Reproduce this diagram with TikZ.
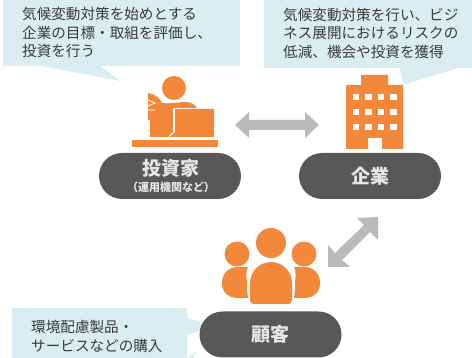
\documentclass[tikz,border=0pt]{standalone}
\usepackage{fontspec}
\setmainfont{Noto Sans CJK JP}
\definecolor{callout}{HTML}{DAEDF3}
\definecolor{pill}{HTML}{595757}
\definecolor{icon}{HTML}{F3873A}
\definecolor{arrowgrey}{HTML}{B9BBB9}
\definecolor{ink}{HTML}{3A3A3A}
\definecolor{pilltext}{HTML}{E6E6E6}
\tikzset{
  calloutfill/.style={fill=callout,draw=none},
  calloutlabel/.style={anchor=west,text=ink,font=\fontsize{14.6}{17}\selectfont,inner sep=0pt},
  pillbox/.style={fill=pill,draw=none,rounded corners=23,minimum width=142,minimum height=46,inner sep=0pt,text=pilltext},
  pillbig/.style={font=\bfseries\fontsize{19}{22}\selectfont},
  iconfill/.style={fill=icon,draw=none},
  winfill/.style={fill=white,draw=none},
  greyarrow/.style={fill=arrowgrey,draw=none}
}
\begin{document}
\begin{tikzpicture}[x=1pt,y=-1pt]
\useasboundingbox (0,0) rectangle (472,358);
% callouts
\fill[calloutfill] (3,0) -- (240,0) -- (240,66) -- (101,66) -- (120,81) -- (42,66) -- (3,66) -- cycle;
\fill[calloutfill] (264,0) -- (472,0) -- (472,68) -- (458,68) -- (403,85) -- (400,68) -- (264,68) -- cycle;
\fill[calloutfill] (12,308) -- (187,308) -- (187,318) -- (215,326) -- (187,335) -- (187,358) -- (12,358) -- cycle;
\fill[calloutfill] (188,358) -- (197,350) -- (193,358) -- cycle;
\node[calloutlabel] (t1a) at (22,14) {気候変動対策を始めとする};
\node[calloutlabel] (t1b) at (22,33) {企業の目標・取組を評価し、};
\node[calloutlabel] (t1c) at (22,51) {投資を行う};
\node[calloutlabel] (t2a) at (283,15) {気候変動対策を行い、ビジ};
\node[calloutlabel] (t2b) at (283,33) {ネス展開におけるリスクの};
\node[calloutlabel] (t2c) at (283,52) {低減、機会や投資を獲得};
\node[calloutlabel] (t3a) at (31,327) {環境配慮製品・};
\node[calloutlabel] (t3b) at (31,346) {サービスなどの購入};
% pills
\node[pillbox] (investor) at (170,176) {};
\node[text=pilltext,inner sep=0pt,pillbig] (investorA) at (171,168) {投資家};
\node[text=pilltext,inner sep=0pt,font=\bfseries\fontsize{11}{13}\selectfont] (investorB) at (171,187) {（運用機関など）};
\node[pillbox,pillbig] (company) at (370,176) {企業};
\node[pillbox,pillbig] (customer) at (270.5,334.5) {顧客};
% investor icon
\fill[iconfill] (174,88) circle (12);
\fill[iconfill] (148,93) .. controls (155,94) and (160,98) .. (162,103) .. controls (170,104) and (180,102) .. (186,102) .. controls (192,102) and (195,105) .. (197,108) -- (173,108) -- (173,132) -- (168,137) -- (150,137) -- (150,120) -- (148,120) -- cycle;
\fill[iconfill] (175,109) -- (214,109) -- (214,137) -- (170,137) -- (175,132) -- cycle;
\fill[iconfill] (132,140) rectangle (218,147);
\draw[white,line width=.9] (148,100) -- (155,103) -- (148,106) (148,110) -- (155,110);
% building
\fill[iconfill] (361,75) -- (388,75) -- (388,85) -- (403,85) -- (403,149) -- (382,149) -- (382,138) -- (368,138) -- (368,149) -- (346,149) -- (346,85) -- (361,85) -- cycle;
\foreach \wy in {97,112,127}{
  \foreach \wx in {356,368.5,381,393.5}{
    \fill[winfill] (\wx-3.2,\wy-3.2) rectangle (\wx+3.2,\wy+3.2);
  }
}
% people
\fill[iconfill] (271,243) circle (15);
\fill[iconfill] (237,254) circle (12.5);
\fill[iconfill] (304,254) circle (12.5);
\fill[iconfill] (250,283) arc (180:360:21) -- (292,300) .. controls (292,303) and (290,304) .. (288,304) -- (254,304) .. controls (252,304) and (250,303) .. (250,300) -- cycle;
\fill[iconfill] (248,267) .. controls (245,272) and (247,280) .. (247,283) -- (247,290) -- (248,298) -- (238,298) .. controls (228,298) and (222,292) .. (222,283) .. controls (222,274) and (228,267) .. (238,267) -- cycle;
\fill[iconfill] (294,267) .. controls (297,272) and (295,280) .. (295,283) -- (295,290) -- (294,298) -- (304,298) .. controls (314,298) and (320,292) .. (320,283) .. controls (320,274) and (314,267) .. (304,267) -- cycle;
% arrows
\coordinate (h1) at (235,125);
\coordinate (h2) at (319,125);
\fill[greyarrow] (h1) -- (249,112) -- (249,120) -- (305,120) -- (305,112) -- (h2) -- (305,138) -- (305,130) -- (249,130) -- (249,138) -- cycle;
\fill[greyarrow] (378,217) -- (378,240) -- (370,232) -- (342,260) -- (350,267) -- (328,267) -- (328,245) -- (335,253) -- (364,225) -- (357,218) -- cycle;
\end{tikzpicture}
\end{document}
